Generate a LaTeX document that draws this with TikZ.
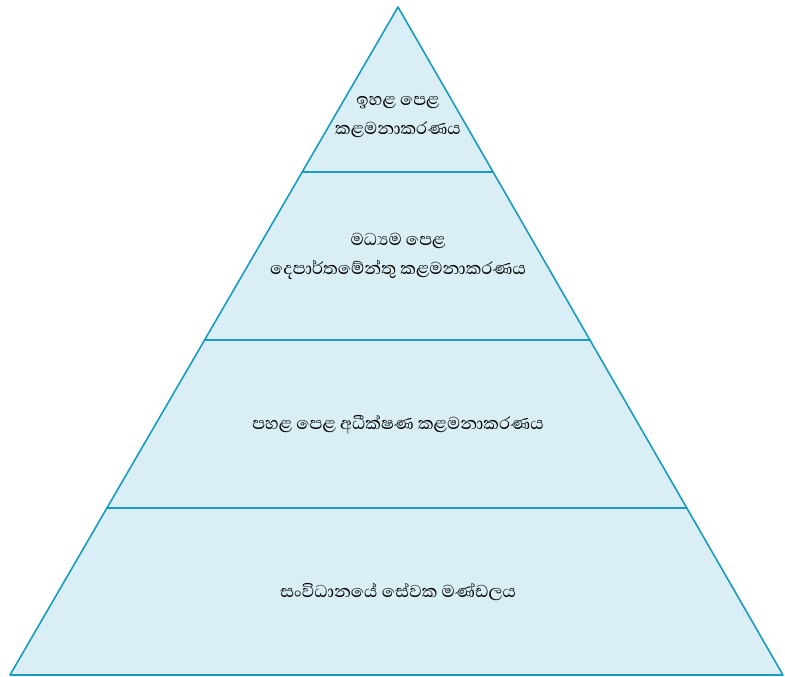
\documentclass[tikz,border=0pt]{standalone}
\usepackage{fontspec}
\newfontfamily\sinf[Script=Sinhala]{Abhaya Libre}
\definecolor{tierfill}{RGB}{217,238,245}
\definecolor{tierline}{RGB}{26,156,192}
\begin{document}
\begin{tikzpicture}[x=1pt,y=-1pt,
  tier/.style={fill=tierfill, draw=tierline, line width=1.6pt, line join=round},
  lbl/.style={font=\sinf\fontsize{22}{29}\selectfont, align=center, text=black}]
\useasboundingbox (0,0) rectangle (785,677);
\coordinate (apex) at (398,7);
\coordinate (l1) at (302.2,172);  \coordinate (r1) at (493.1,172);
\coordinate (l2) at (204.6,340);  \coordinate (r2) at (589.9,340);
\coordinate (l3) at (106.9,508);  \coordinate (r3) at (686.8,508);
\coordinate (bl) at (10,675);     \coordinate (br) at (783,675);
\draw[tier] (apex) -- (r1) -- (l1) -- cycle;
\draw[tier] (l1) -- (r1) -- (r2) -- (l2) -- cycle;
\draw[tier] (l2) -- (r2) -- (r3) -- (l3) -- cycle;
\draw[tier] (l3) -- (r3) -- (br) -- (bl) -- cycle;
\node[lbl] (t1) at (398,117) {ඉහළ පෙළ\\කළමනාකරණය};
\node[lbl] (t2) at (398,256) {මධ්‍යම පෙළ\\දෙපාර්තමේන්තු කළමනාකරණය};
\node[lbl] (t3) at (398,425) {පහළ පෙළ අධීක්ෂණ කළමනාකරණය};
\node[lbl] (t4) at (398,592) {සංවිධානයේ සේවක මණ්ඩලය};
\end{tikzpicture}
\end{document}
